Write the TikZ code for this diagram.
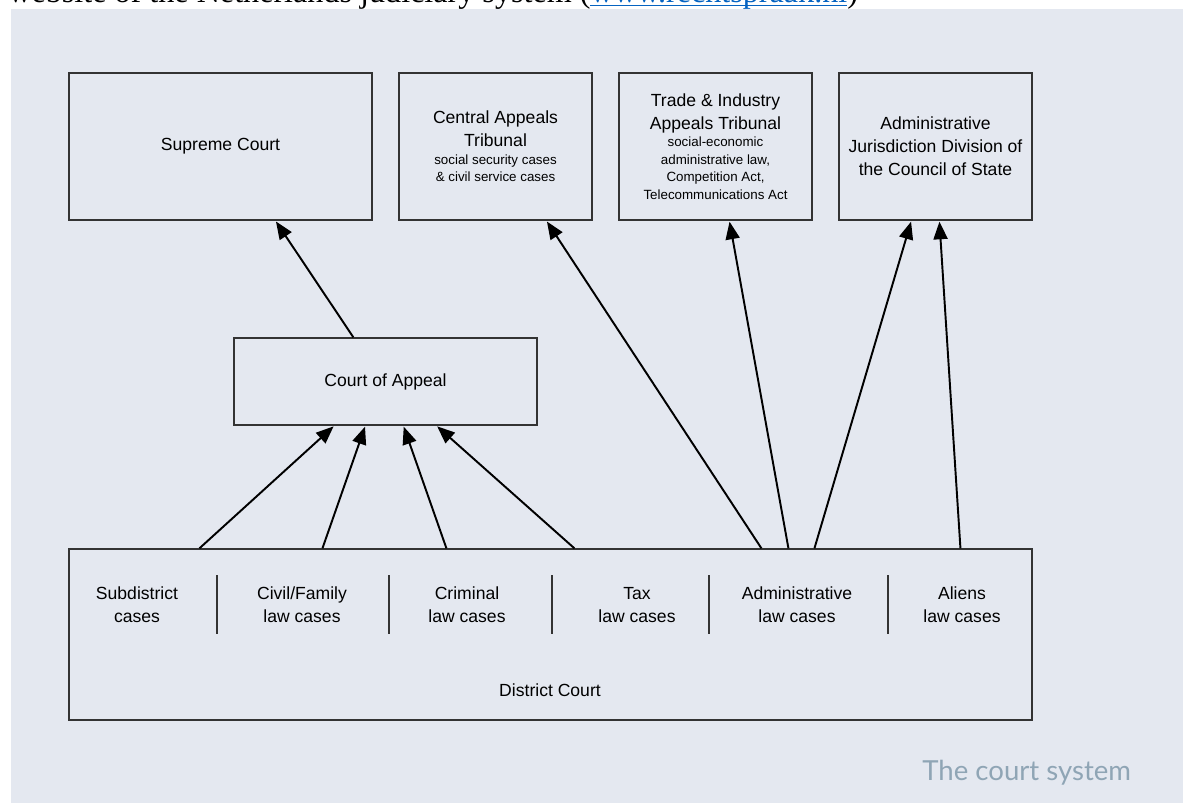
\documentclass[tikz,border=0pt]{standalone}
\usepackage{fontspec}
\setmainfont{Liberation Sans}
\newfontfamily\serifface{Liberation Serif}
\newfontfamily\captionface{Lato}
\usetikzlibrary{arrows.meta,calc}
\definecolor{panel}{HTML}{E4E8F0}
\definecolor{caption}{HTML}{8FA5B5}
\definecolor{weblink}{HTML}{0563C1}
\definecolor{frame}{HTML}{333333}
\newcommand\notefont{\fontsize{7.6}{9.4}\selectfont}

\begin{document}
\begin{tikzpicture}[x=0.02cm, y=-0.02cm,
    every node/.style={font=\fontsize{10}{13}\selectfont},
    court/.style={draw=frame, line width=0.75pt, align=center, inner sep=0pt},
    appeal/.style={-{Triangle[length=10pt,width=8pt]}, line width=1.1pt, shorten >=0.6pt}]
  \useasboundingbox (0,0) rectangle (1183,803);
  \clip (0,0) rectangle (1183,803);

  % page text above the panel
  \node[anchor=base west, inner sep=0pt, font=\serifface\fontsize{18.3}{20}\selectfont] (web) at (8,2.5)
    {website of the Netherlands judiciary system (\textcolor{weblink}{\underline{\smash{www.rechtspraak.nl}}})};

  % panel
  \fill[panel] (11,9) rectangle (1183,803);

  % top row
  \node[court, minimum width=6.06cm, minimum height=2.94cm] (supreme) at (220.5,146.5) {Supreme Court};
  \node[court, minimum width=3.86cm, minimum height=2.94cm] (central) at (495.5,146.5)
    {Central Appeals\\Tribunal\\[-3pt]\notefont social security cases\\[-3pt]\notefont \& civil service cases};
  \node[court, minimum width=3.86cm, minimum height=2.94cm] (trade) at (715.5,146.5)
    {Trade \& Industry\\Appeals Tribunal\\[-3pt]\notefont social-economic\\[-3pt]\notefont administrative law,\\[-3pt]\notefont Competition Act,\\[-3pt]\notefont Telecommunications Act};
  \node[court, minimum width=3.86cm, minimum height=2.94cm] (council) at (935.5,146.5)
    {Administrative\\Jurisdiction Division of\\the Council of State};

  % middle
  \node[court, minimum width=6.06cm, minimum height=1.74cm] (appealcourt) at (385.5,381.5) {Court of Appeal};

  % district court
  \node[court, minimum width=19.26cm, minimum height=3.42cm] (district) at (550.5,634.5) {};
  \node (districtlabel) at (550,690) {District Court};
  \foreach \x in {217,389,552,709,888} {
    \draw[frame, line width=0.75pt] (\x,575) -- (\x,634);
  }
  \foreach \x/\a/\b [count=\i] in {137/Subdistrict/cases, 302/Civil\slash Family/law cases,
      467/Criminal/law cases, 637/Tax/law cases, 797/Administrative/law cases, 962/Aliens/law cases} {
    \node[align=center] (case\i) at (\x,605) {\a\\\b};
  }

  % appeals
  \draw[appeal] ($(appealcourt.north west)+(120,0)$) -- ($(supreme.south west)+(207,0)$);
  \foreach \s/\t in {131/101, 254/132, 378/170, 506/203} {
    \draw[appeal] ($(district.north west)+(\s,0)$) -- ($(appealcourt.south west)+(\t,0)$);
  }
  \draw[appeal] ($(district.north west)+(693,0)$) -- ($(central.south west)+(148,0)$);
  \draw[appeal] ($(district.north west)+(720,0)$) -- ($(trade.south west)+(111,0)$);
  \draw[appeal] ($(district.north west)+(746,0)$) -- ($(council.south west)+(73,0)$);
  \draw[appeal] ($(district.north west)+(892,0)$) -- ($(council.south west)+(101,0)$);

  % caption
  \node[anchor=base west, inner sep=0pt, text=caption, font=\captionface\fontsize{15.7}{18}\selectfont] (title) at (922,780) {The court system};
\end{tikzpicture}
\end{document}
